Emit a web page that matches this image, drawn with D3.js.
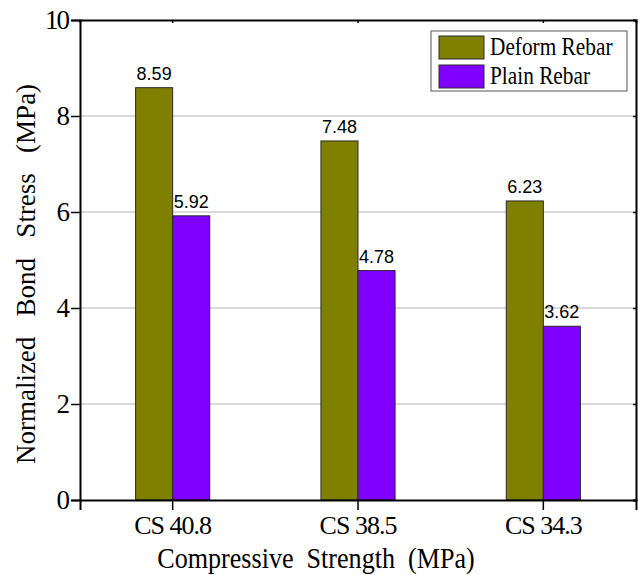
<!DOCTYPE html>
<html>
<head>
<meta charset="utf-8">
<script src="https://cdn.jsdelivr.net/npm/d3@7"></script>
<style>
  body { margin: 0; background: #fff; }
  svg { display: block; }
</style>
</head>
<body>
<div id="content"></div>
<script>
// chart data
const categories = ["CS 40.8", "CS 38.5", "CS 34.3"];
const seriesNames = ["Deform Rebar", "Plain Rebar"];
const deformValues = [8.59, 7.48, 6.23];
const plainValues = [5.92, 4.78, 3.62];
const yTicks = [0, 2, 4, 6, 8, 10];
const seriesColors = ["#808000", "#8000ff"];

const svgWidth = 638, svgHeight = 575;
const margin = { top: 20, right: 2, bottom: 75, left: 80 };
const width = svgWidth - margin.left - margin.right;
const height = svgHeight - margin.top - margin.bottom;
const serif = "\"Liberation Serif\", \"Times New Roman\", Times, serif";
const sans = "\"Liberation Sans\", Arial, sans-serif";

const rows = categories.map((c, i) => ({
    category: c,
    values: [
        { series: seriesNames[0], value: deformValues[i] },
        { series: seriesNames[1], value: plainValues[i] }
    ]
}));

const svg = d3.select("#content")
    .append("svg")
    .attr("width", svgWidth)
    .attr("height", svgHeight);
const g = svg.append("g")
    .attr("transform", `translate(${margin.left}, ${margin.top})`);

const x = d3.scaleBand()
    .domain(categories)
    .range([0, width])
    .padding(0);
const groupWidth = x.bandwidth() * 0.4;
const xSub = d3.scaleBand()
    .domain(seriesNames)
    .range([x.bandwidth() / 2 - groupWidth / 2, x.bandwidth() / 2 + groupWidth / 2]);
const y = d3.scaleLinear()
    .domain([0, 10])
    .range([height, 0]);
const color = d3.scaleOrdinal().domain(seriesNames).range(seriesColors);

// grid lines
g.append("g")
    .selectAll("line")
    .data(yTicks.filter(t => t > 0 && t < 10))
    .enter().append("line")
    .attr("x1", 0)
    .attr("x2", width)
    .attr("y1", d => y(d))
    .attr("y2", d => y(d))
    .attr("stroke", "#b4b4b4")
    .attr("stroke-width", 1);

// bars
const groups = g.append("g")
    .selectAll("g")
    .data(rows)
    .enter().append("g")
    .attr("transform", d => `translate(${x(d.category)}, 0)`);

groups.selectAll("rect")
    .data(d => d.values)
    .enter().append("rect")
    .attr("x", d => xSub(d.series))
    .attr("y", d => y(d.value))
    .attr("width", xSub.bandwidth())
    .attr("height", d => height - y(d.value))
    .attr("fill", d => color(d.series))
    .attr("stroke", "#2a2a2a")
    .attr("stroke-width", 1);

groups.selectAll("text")
    .data(d => d.values)
    .enter().append("text")
    .attr("x", d => xSub(d.series) + xSub.bandwidth() / 2)
    .attr("y", d => y(d.value) - 8)
    .attr("text-anchor", "middle")
    .attr("font-family", sans)
    .attr("font-size", 18)
    .text(d => d.value.toFixed(2));

// axes
const xAxis = g.append("g")
    .attr("transform", `translate(0, ${height})`)
    .call(d3.axisBottom(x).tickSize(10).tickPadding(6));
const yAxis = g.append("g")
    .call(d3.axisLeft(y).tickValues(yTicks).tickFormat(d3.format("d")).tickSize(9).tickPadding(3));
const topAxis = g.append("g")
    .call(d3.axisTop(x).tickSize(-3).tickFormat(""));
const rightAxis = g.append("g")
    .attr("transform", `translate(${width}, 0)`)
    .call(d3.axisRight(y).tickValues(yTicks).tickSize(-3).tickFormat(""));

[xAxis, yAxis, topAxis, rightAxis].forEach(a => {
    a.attr("font-family", serif).attr("font-size", 26);
    a.selectAll("path").attr("stroke", "#000").attr("stroke-width", 2);
    a.selectAll("line").attr("stroke", "#000").attr("stroke-width", 1.5);
    a.selectAll("text").attr("fill", "#000");
});
xAxis.selectAll("text").attr("dy", "0.71em").attr("letter-spacing", "-1");
yAxis.selectAll("text").attr("dy", "0.3em").attr("font-size", 27).attr("letter-spacing", "-2");

// axis titles
g.append("text")
    .attr("transform", `translate(${236}, ${height + 68}) scale(0.9, 1)`)
    .attr("text-anchor", "middle")
    .attr("xml:space", "preserve")
    .style("white-space", "pre")
    .attr("font-family", serif)
    .attr("font-size", 29)
    .text("Compressive  Strength  (MPa)");

g.append("text")
    .attr("transform", `translate(${35 - margin.left}, ${274 - margin.top}) rotate(-90)`)
    .attr("text-anchor", "middle")
    .attr("xml:space", "preserve")
    .style("white-space", "pre")
    .attr("font-family", serif)
    .attr("font-size", 27)
    .text("Normalized   Bond   Stress   (MPa)");

// legend
const legend = g.append("g")
    .attr("transform", `translate(${431 - margin.left}, ${31 - margin.top})`);
legend.append("rect")
    .attr("width", 196)
    .attr("height", 60)
    .attr("fill", "#fff")
    .attr("stroke", "#555")
    .attr("stroke-width", 1);
const items = legend.selectAll("g.item")
    .data(seriesNames)
    .enter().append("g")
    .attr("class", "item")
    .attr("transform", (d, i) => `translate(8, ${5 + i * 29})`);
items.append("rect")
    .attr("width", 45)
    .attr("height", 23)
    .attr("fill", d => color(d))
    .attr("stroke", "#2a2a2a")
    .attr("stroke-width", 1);
items.append("text")
    .attr("transform", "translate(51, 19) scale(0.82, 1)")
    .attr("font-family", serif)
    .attr("font-size", 26)
    .text(d => d);
</script>
</body>
</html>
